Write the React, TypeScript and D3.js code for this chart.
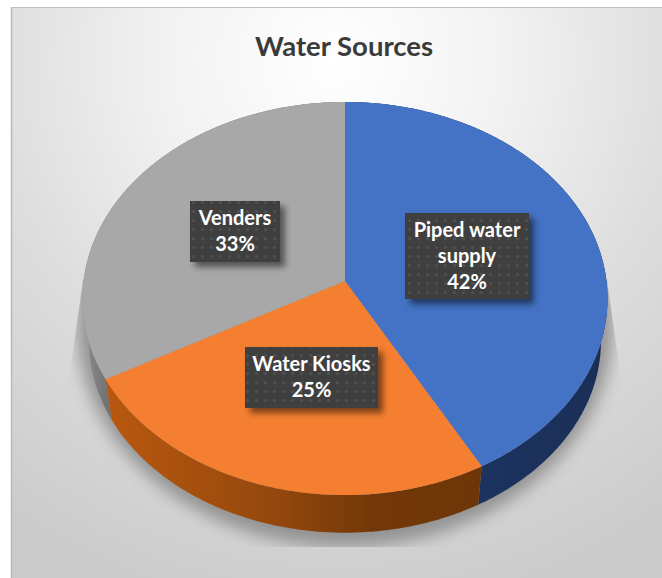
import React from "react";
import * as d3 from "d3";

const categories = ["Piped water supply", "Water Kiosks", "Venders"];
const shares = [42, 25, 33];
const labelLines = [["Piped water", "supply", "42%"], ["Water Kiosks", "25%"], ["Venders", "33%"]];

const W = 662, H = 578;
const topColors = ["#4472c4", "#f47f30", "#a8a8a8"];
const sideIds = ["sideBlue", "sideOrange", "sideGray"];
const boxes = [
  { x: 405, y: 213, w: 124, h: 86 },
  { x: 245, y: 347, w: 133, h: 61 },
  { x: 190, y: 201, w: 90, h: 61 },
];

// perspective disc
const cx = 345, cy = 281, p = 0.089, kx = 261.5, ky = 195;
const lowerScale = 0.975, lowerShift = 43;
const project = (a: number): [number, number] => {
  const u = Math.sin(a), v = -Math.cos(a), w = 1 - p * v;
  return [cx + (kx * u) / w, cy + (ky * v) / w];
};
const lowered = (a: number): [number, number] => {
  const [x, y] = project(a);
  return [cx + (x - cx) * lowerScale, cy + (y - cy) * lowerScale + lowerShift];
};
const line = d3.line<[number, number]>();
const arcs = d3.pie<number>().sort(null)(shares);
const rimAngles = (a0: number, a1: number) => {
  const n = Math.max(2, Math.ceil((a1 - a0) / 0.01));
  return d3.range(n + 1).map((i) => a0 + ((a1 - a0) * i) / n);
};

export default function App() {
  return (
    <svg width={W} height={H} style={{ position: "absolute", left: 0, top: 0, display: "block" }}>
      <defs>
        <radialGradient id="bg" gradientUnits="userSpaceOnUse" cx={335} cy={60} r={560}>
          <stop offset="0" stopColor="#ffffff" />
          <stop offset="0.3" stopColor="#f2f2f2" />
          <stop offset="0.62" stopColor="#dddddd" />
          <stop offset="1" stopColor="#cbcbcb" />
        </radialGradient>
        <linearGradient id="sideOrange" gradientUnits="userSpaceOnUse" x1={110} x2={484} y1={0} y2={0}>
          <stop offset="0" stopColor="#b8580f" />
          <stop offset="0.45" stopColor="#93470d" />
          <stop offset="0.7" stopColor="#733808" />
          <stop offset="1" stopColor="#6e3608" />
        </linearGradient>
        <linearGradient id="sideBlue" gradientUnits="userSpaceOnUse" x1={484} x2={607} y1={0} y2={0}>
          <stop offset="0" stopColor="#1c3360" />
          <stop offset="1" stopColor="#1a2f57" />
        </linearGradient>
        <linearGradient id="sideGray" gradientUnits="userSpaceOnUse" x1={82} x2={110} y1={0} y2={0}>
          <stop offset="0" stopColor="#8f8f8f" />
          <stop offset="1" stopColor="#6f6f6f" />
        </linearGradient>
        <filter id="pieShadow" x="-20%" y="-20%" width="140%" height="140%">
          <feGaussianBlur stdDeviation="8" />
        </filter>
        <filter id="boxShadow" x="-20%" y="-30%" width="140%" height="160%">
          <feGaussianBlur stdDeviation="3" />
        </filter>
        <clipPath id="shadowClip">
          <polygon points="83,280 67,393 67,547 623,547 623,393 607,280" />
        </clipPath>
        <pattern id="dots" width={9} height={9} patternUnits="userSpaceOnUse">
          <rect width={9} height={9} fill="#3f3f3f" />
          <circle cx={4.5} cy={4.5} r={1.6} fill="#505050" />
        </pattern>
      </defs>

      <rect x={11} y={7} width={W - 11} height={H - 7} fill="url(#bg)" />
      <line x1={11} x2={W} y1={7.5} y2={7.5} stroke="#c0c0c0" strokeWidth={1} />
      <line x1={11.5} x2={11.5} y1={7} y2={H} stroke="#b8b8b8" strokeWidth={1.5} />

      <g clipPath="url(#shadowClip)">
        <ellipse cx={345} cy={325} rx={268} ry={222} fill="#8c8c8c" opacity={0.9} filter="url(#pieShadow)" />
      </g>

      {arcs.map((d, i) => {
        const rim = rimAngles(d.startAngle, d.endAngle);
        const path = line([...rim.map(project), ...rim.slice().reverse().map(lowered)]);
        return <path key={sideIds[i]} d={path ?? ""} fill={`url(#${sideIds[i]})`} />;
      })}
      {arcs.map((d, i) => {
        const rim = rimAngles(d.startAngle, d.endAngle).map(project);
        return <path key={categories[i]} d={(line([[cx, cy], ...rim]) ?? "") + "Z"} fill={topColors[i]} />;
      })}

      <text x={344} y={56} textAnchor="middle" fontFamily="Lato, 'Open Sans', sans-serif" fontWeight={700} fontSize={27.5} fill="#3a3a3a">
        Water Sources
      </text>

      {boxes.map((b, i) => (
        <g key={i}>
          <rect x={b.x + 5} y={b.y + 5} width={b.w} height={b.h} fill="#000" opacity={0.5} filter="url(#boxShadow)" />
          <rect x={b.x} y={b.y} width={b.w} height={b.h} fill="url(#dots)" />
          {labelLines[i].map((t, j) => (
            <text key={t} x={b.x + b.w / 2} y={b.y + 24 + j * 26} textAnchor="middle" fontFamily="Lato, 'Open Sans', sans-serif" fontWeight={700} fontSize={20} fill="#ffffff">
              {t}
            </text>
          ))}
        </g>
      ))}
    </svg>
  );
}
